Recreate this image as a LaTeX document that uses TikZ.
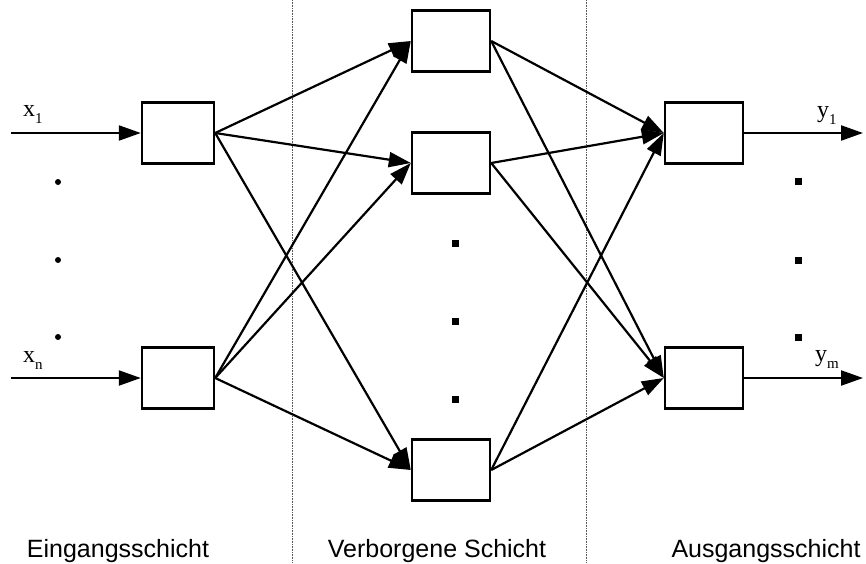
\documentclass[tikz,border=0pt]{standalone}
\usepackage{fontspec}
\setmainfont{Liberation Serif}
\newfontfamily\labelfont{Liberation Sans}
\usetikzlibrary{arrows.meta}
\newcommand{\lowsub}[1]{\raisebox{-7.5pt}{\fontsize{15}{15}\selectfont #1}}
\begin{document}
\begin{tikzpicture}[x=1pt,y=-1pt,
  unit/.style={draw,line width=2.4pt,fill=white,inner sep=0pt},
  inbox/.style={unit,minimum width=72pt,minimum height=61pt},
  hidbox/.style={unit,minimum width=78pt,minimum height=61pt},
  conn/.style={line width=2.2pt,-{Triangle[length=22pt,width=15pt]}},
  sep/.style={line width=0.6pt,densely dotted,gray!70!black},
  layerlabel/.style={font=\labelfont\fontsize{25}{25}\selectfont,anchor=base},
  varlabel/.style={font=\fontsize{24}{24}\selectfont,anchor=base west,inner sep=0pt},
  rdot/.style={circle,fill,inner sep=0pt,minimum size=6pt},
  sdot/.style={rectangle,fill,inner sep=0pt,minimum size=7pt}]
\useasboundingbox (0,0) rectangle (866,563);
% separators
\coordinate (s1t) at (292,0); \coordinate (s1b) at (292,563);
\coordinate (s2t) at (586,0); \coordinate (s2b) at (586,563);
\draw[sep] (s1t) -- (s1b);
\draw[sep] (s2t) -- (s2b);
% boxes
\node[inbox] (i1) at (178,133) {};
\node[inbox] (i2) at (178,378) {};
\node[hidbox] (h1) at (451,41) {};
\node[hidbox] (h2) at (451,163) {};
\node[hidbox] (h3) at (451,470) {};
\node[hidbox] (o1) at (704,133) {};
\node[hidbox] (o2) at (704,378) {};
% inputs and outputs
\coordinate (xin1) at (11,133);
\coordinate (xin2) at (11,378);
\coordinate (yout1) at (863,133);
\coordinate (yout2) at (863,378);
\draw[conn] (xin1) -- (i1.west);
\draw[conn] (xin2) -- (i2.west);
\draw[conn] (o1.east) -- (yout1);
\draw[conn] (o2.east) -- (yout2);
% input -> hidden
\foreach \a in {i1,i2}{
  \foreach \b in {h1,h2,h3}{
    \draw[conn] (\a.east) -- (\b.west);
  }
}
% hidden -> output
\foreach \a in {h1,h2,h3}{
  \foreach \b in {o1,o2}{
    \draw[conn] (\a.east) -- (\b.west);
  }
}
% variable labels
\node[varlabel] (lx1) at (23,116) {x\lowsub{1}};
\node[varlabel] (lxn) at (23,362) {x\lowsub{n}};
\node[varlabel] (ly1) at (817,117) {y\lowsub{1}};
\node[varlabel] (lym) at (815,361) {y\lowsub{m}};
% ellipsis dots
\node[rdot] (d1) at (58,182) {};
\node[rdot] (d2) at (58,260) {};
\node[rdot] (d3) at (58,337) {};
\node[sdot] (e1) at (455,243) {};
\node[sdot] (e2) at (455,321) {};
\node[sdot] (e3) at (455,399) {};
\node[sdot] (f1) at (798,181) {};
\node[sdot] (f2) at (798,260) {};
\node[sdot] (f3) at (798,337) {};
% layer labels
\node[layerlabel] (L1) at (118,557) {Eingangsschicht};
\node[layerlabel] (L2) at (437,557) {Verborgene Schicht};
\node[layerlabel] (L3) at (766,557) {Ausgangsschicht};
\end{tikzpicture}
\end{document}
